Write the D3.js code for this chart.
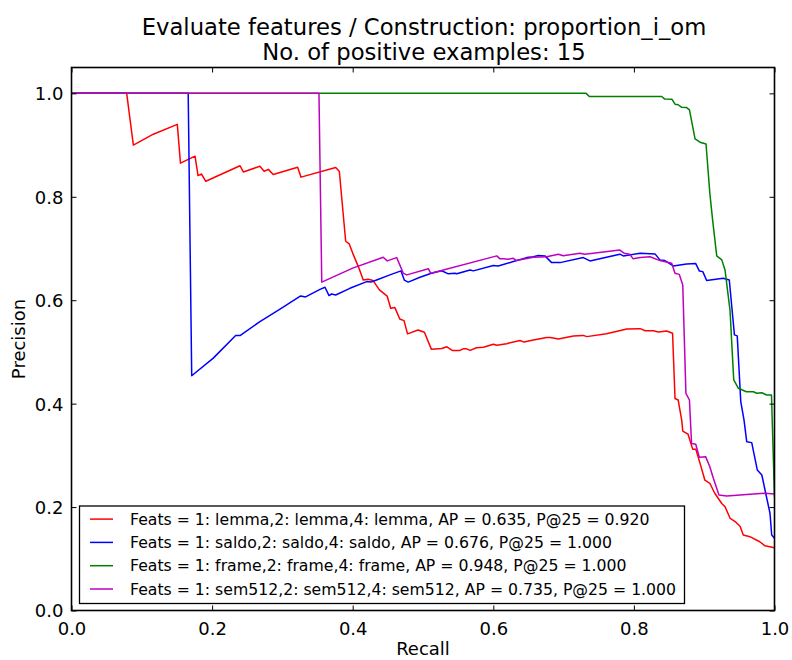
<!DOCTYPE html>
<html>
<head>
<meta charset="utf-8">
<script src="https://cdn.jsdelivr.net/npm/d3@7"></script>
<style>
  html, body { margin: 0; padding: 0; background: #fff; }
  svg { display: block; font-family: "DejaVu Sans", sans-serif; }
</style>
</head>
<body>
<svg id="chart" width="792" height="660"></svg>
<script>
const titleLines = ["Evaluate features / Construction: proportion_i_om", "No. of positive examples: 15"];
const xLabel = "Recall";
const yLabel = "Precision";
const xTicks = [0.0, 0.2, 0.4, 0.6, 0.8, 1.0];
const yTicks = [0.0, 0.2, 0.4, 0.6, 0.8, 1.0];

const seriesNames = [
  "Feats = 1: lemma,2: lemma,4: lemma, AP = 0.635, P@25 = 0.920",
  "Feats = 1: saldo,2: saldo,4: saldo, AP = 0.676, P@25 = 1.000",
  "Feats = 1: frame,2: frame,4: frame, AP = 0.948, P@25 = 1.000",
  "Feats = 1: sem512,2: sem512,4: sem512, AP = 0.735, P@25 = 1.000"
];
const seriesColors = ["#ff0000", "#0000ff", "#008000", "#bf00bf"];

const lemmaRecall = [0, 0.0785, 0.088, 0.1164, 0.1505, 0.155, 0.1757, 0.180, 0.185, 0.191, 0.2397, 0.2444, 0.268, 0.274, 0.280, 0.287, 0.3217, 0.3265, 0.3758, 0.381, 0.390, 0.395, 0.401, 0.408, 0.415, 0.422, 0.429, 0.438, 0.449, 0.454, 0.460, 0.467, 0.473, 0.478, 0.493, 0.502, 0.512, 0.5266, 0.534, 0.5417, 0.5526, 0.557, 0.562, 0.567, 0.576, 0.586, 0.600, 0.605, 0.619, 0.638, 0.6437, 0.657, 0.676, 0.681, 0.6925, 0.714, 0.728, 0.733, 0.761, 0.790, 0.809, 0.816, 0.8276, 0.835, 0.8467, 0.855, 0.8585, 0.863, 0.868, 0.8695, 0.877, 0.8836, 0.888, 0.894, 0.901, 0.908, 0.915, 0.925, 0.9296, 0.937, 0.944, 0.951, 0.9556, 0.965, 0.979, 0.9865, 1.0];
const lemmaPrecision = [1.0, 1.0, 0.900, 0.921, 0.940, 0.865, 0.8785, 0.841, 0.844, 0.830, 0.860, 0.848, 0.859, 0.8495, 0.853, 0.843, 0.857, 0.838, 0.8565, 0.849, 0.714, 0.709, 0.6876, 0.665, 0.639, 0.6406, 0.638, 0.620, 0.608, 0.5845, 0.5857, 0.5638, 0.5605, 0.535, 0.5425, 0.538, 0.505, 0.5065, 0.510, 0.503, 0.503, 0.506, 0.506, 0.503, 0.508, 0.509, 0.515, 0.513, 0.516, 0.522, 0.519, 0.523, 0.5277, 0.528, 0.525, 0.531, 0.532, 0.5296, 0.535, 0.5445, 0.545, 0.541, 0.541, 0.5387, 0.5406, 0.536, 0.410, 0.407, 0.368, 0.347, 0.341, 0.312, 0.312, 0.285, 0.252, 0.246, 0.2267, 0.207, 0.2008, 0.178, 0.172, 0.163, 0.146, 0.1428, 0.133, 0.125, 0.1215];

const saldoRecall = [0, 0.166, 0.171, 0.2017, 0.2335, 0.2397, 0.268, 0.2966, 0.326, 0.333, 0.3535, 0.3606, 0.3663, 0.370, 0.3758, 0.396, 0.420, 0.426, 0.434, 0.453, 0.4687, 0.4734, 0.479, 0.4957, 0.512, 0.5266, 0.536, 0.5455, 0.548, 0.567, 0.5716, 0.600, 0.607, 0.6285, 0.6475, 0.657, 0.664, 0.6735, 0.683, 0.695, 0.728, 0.7375, 0.780, 0.785, 0.809, 0.830, 0.837, 0.844, 0.856, 0.875, 0.888, 0.893, 0.898, 0.9035, 0.927, 0.9357, 0.943, 0.947, 0.952, 0.9566, 0.9605, 0.9676, 0.9755, 0.982, 0.988, 0.9936, 0.996, 1.0];
const saldoPrecision = [1.0, 1.0, 0.454, 0.488, 0.5316, 0.5316, 0.5587, 0.5826, 0.6083, 0.6064, 0.621, 0.625, 0.609, 0.612, 0.610, 0.623, 0.636, 0.635, 0.639, 0.649, 0.6567, 0.639, 0.635, 0.6445, 0.652, 0.657, 0.651, 0.652, 0.651, 0.6586, 0.6567, 0.667, 0.666, 0.6747, 0.6824, 0.684, 0.6863, 0.6857, 0.6727, 0.6727, 0.6824, 0.676, 0.689, 0.6857, 0.691, 0.6896, 0.678, 0.6766, 0.6663, 0.670, 0.6708, 0.6567, 0.6553, 0.638, 0.6425, 0.639, 0.533, 0.531, 0.404, 0.3685, 0.3265, 0.3246, 0.2718, 0.262, 0.2234, 0.188, 0.146, 0.1397];

const frameRecall = [0, 0.732, 0.7366, 0.8395, 0.844, 0.854, 0.8585, 0.863, 0.868, 0.875, 0.879, 0.887, 0.894, 0.9026, 0.908, 0.912, 0.9178, 0.925, 0.9296, 0.9367, 0.942, 0.9485, 0.960, 0.970, 0.9747, 0.982, 0.989, 0.9957, 1.0];
const framePrecision = [1.0, 1.0, 0.9938, 0.994, 0.989, 0.9888, 0.979, 0.978, 0.973, 0.9725, 0.968, 0.912, 0.9056, 0.902, 0.807, 0.755, 0.6857, 0.678, 0.6586, 0.581, 0.446, 0.4298, 0.423, 0.423, 0.420, 0.421, 0.4168, 0.4168, 0.22];

const sem512Recall = [0, 0.352, 0.356, 0.400, 0.4435, 0.449, 0.4626, 0.472, 0.477, 0.5076, 0.511, 0.5195, 0.605, 0.6095, 0.615, 0.621, 0.6285, 0.633, 0.657, 0.676, 0.6925, 0.6995, 0.7233, 0.730, 0.742, 0.780, 0.786, 0.794, 0.799, 0.809, 0.823, 0.837, 0.8537, 0.8585, 0.8645, 0.8695, 0.874, 0.879, 0.882, 0.888, 0.893, 0.902, 0.908, 0.913, 0.921, 0.932, 0.951, 0.970, 0.9865, 1.0];
const sem512Precision = [1.0, 1.0, 0.635, 0.662, 0.683, 0.676, 0.6824, 0.652, 0.649, 0.661, 0.652, 0.655, 0.6857, 0.680, 0.680, 0.679, 0.681, 0.6766, 0.683, 0.684, 0.689, 0.686, 0.691, 0.689, 0.691, 0.697, 0.691, 0.689, 0.680, 0.6824, 0.684, 0.6766, 0.6716, 0.652, 0.650, 0.6296, 0.420, 0.407, 0.323, 0.3215, 0.2963, 0.2975, 0.278, 0.2557, 0.2234, 0.2215, 0.2234, 0.2253, 0.2267, 0.2253];

const seriesRecall = [lemmaRecall, saldoRecall, frameRecall, sem512Recall];
const seriesPrecision = [lemmaPrecision, saldoPrecision, framePrecision, sem512Precision];

// ---- layout ----
const L = 71.5, R = 774.5, T = 67.5, B = 610.5;
const svg = d3.select("#chart");
const x = d3.scaleLinear().domain([0, 1]).range([L, R]);
const y = d3.scaleLinear().domain([0, 1.05]).range([B, T]);

svg.append("rect").attr("width", 792).attr("height", 660).attr("fill", "#fff");

svg.append("defs").append("clipPath").attr("id", "clip")
  .append("rect").attr("x", L).attr("y", T).attr("width", R - L).attr("height", B - T);

// lines
const line = d3.line().x(d => x(d[0])).y(d => y(d[1]));
const gLines = svg.append("g").attr("clip-path", "url(#clip)");
seriesNames.forEach((name, i) => {
  const pts = seriesRecall[i].map((r, k) => [r, seriesPrecision[i][k]]);
  gLines.append("path").datum(pts)
    .attr("d", line)
    .attr("fill", "none")
    .attr("stroke", seriesColors[i])
    .attr("stroke-width", 1.5)
    .attr("stroke-linejoin", "round");
});

// axes (ticks inward on all four sides)
const tickLen = 5;
const fmt = d3.format(".1f");
const axB = svg.append("g").attr("transform", `translate(0,${B})`)
  .call(d3.axisBottom(x).tickValues(xTicks).tickFormat(fmt).tickSizeInner(-tickLen).tickSizeOuter(0).tickPadding(12));
const axT = svg.append("g").attr("transform", `translate(0,${T})`)
  .call(d3.axisTop(x).tickValues(xTicks).tickFormat("").tickSizeInner(-tickLen).tickSizeOuter(0));
const axL = svg.append("g").attr("transform", `translate(${L},0)`)
  .call(d3.axisLeft(y).tickValues(yTicks).tickFormat(fmt).tickSizeInner(-tickLen).tickSizeOuter(0).tickPadding(8));
const axR = svg.append("g").attr("transform", `translate(${R},0)`)
  .call(d3.axisRight(y).tickValues(yTicks).tickFormat("").tickSizeInner(-tickLen).tickSizeOuter(0));

[axB, axT, axL, axR].forEach(a => {
  a.select(".domain").remove();
  a.selectAll(".tick line").attr("stroke", "#000").attr("stroke-width", 1);
  a.selectAll("text").attr("font-family", "DejaVu Sans").attr("font-size", 18).attr("fill", "#000");
});
axB.selectAll(".tick text").attr("dy", "0.71em");
axL.selectAll(".tick text").attr("dy", "0.36em");

// frame
svg.append("rect").attr("x", L).attr("y", T).attr("width", R - L).attr("height", B - T)
  .attr("fill", "none").attr("stroke", "#000").attr("stroke-width", 1.6);

// labels
svg.append("text").attr("x", (L + R) / 2).attr("y", 655).attr("text-anchor", "middle")
  .attr("font-size", 18).text(xLabel);
svg.append("text").attr("transform", `translate(25,${(T + B) / 2}) rotate(-90)`).attr("text-anchor", "middle")
  .attr("font-size", 18).text(yLabel);

// title
titleLines.forEach((t, i) => {
  svg.append("text").attr("x", (L + R) / 2 + 1).attr("y", 35 + i * 25).attr("text-anchor", "middle")
    .attr("font-size", 22.7).text(t);
});

// legend
const legX = 79.5, legY = 506, legW = 605, legH = 97.5;
const lg = svg.append("g");
lg.append("rect").attr("x", legX).attr("y", legY).attr("width", legW).attr("height", legH)
  .attr("fill", "#fff").attr("stroke", "#000").attr("stroke-width", 1.3);
seriesNames.forEach((name, i) => {
  const cy = 519.1 + i * 23.3;
  lg.append("line").attr("x1", 90).attr("x2", 113).attr("y1", cy).attr("y2", cy)
    .attr("stroke", seriesColors[i]).attr("stroke-width", 1.5);
  lg.append("text").attr("x", 130).attr("y", cy).attr("dy", "0.36em")
    .attr("font-size", 15.7).text(name);
});
</script>
</body>
</html>
